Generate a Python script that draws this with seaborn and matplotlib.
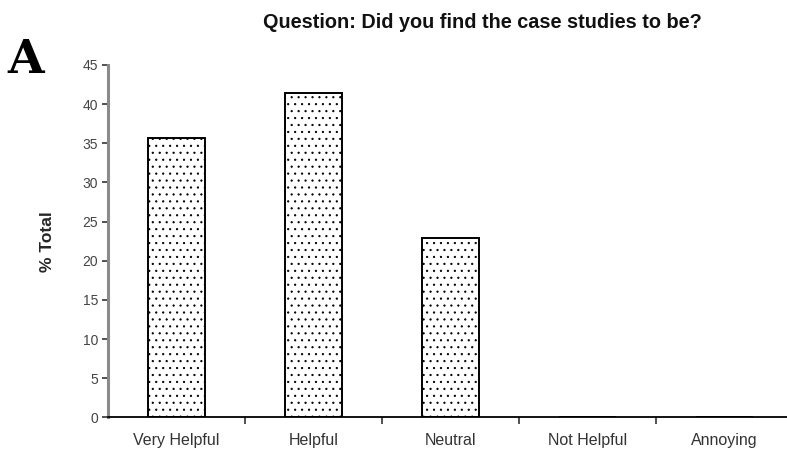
import matplotlib
matplotlib.use("Agg")
import matplotlib.pyplot as plt
import seaborn as sns
import numpy as np

categories = ["Very Helpful", "Helpful", "Neutral", "Not Helpful", "Annoying"]
percent_total = [35.7, 41.4, 22.9, 0.0, 0.0]
y_ticks = [0, 5, 10, 15, 20, 25, 30, 35, 40, 45]

sns.set_theme(style="white")
plt.rcParams["font.family"] = ["Liberation Sans", "DejaVu Sans"]

# Rendered at 125 dpi so the dot hatch comes out with a ~7 px pitch;
# every point-based size below is scaled by S to keep pixel sizes.
DPI = 125
S = 100 / DPI
plt.rcParams["hatch.linewidth"] = 0.6 * S
plt.rcParams["hatch.color"] = "#222222"

W, H = 787, 450
fig = plt.figure(figsize=(W / DPI, H / DPI), dpi=DPI)
ax = fig.add_axes([108 / W, 1 - 417.3 / H, (793 - 108) / W, (417.3 - 65) / H])

sns.barplot(x=categories, y=percent_total, color="white", edgecolor="black",
            linewidth=1.4 * S, width=0.41, saturation=1, ax=ax)
for p in ax.patches:
    p.set_hatch("...")
    p.set_facecolor("white")

ax.set_xlim(-0.5, 4.5)
ax.set_ylim(0, 45)
ax.set_yticks(y_ticks)
ax.set_yticklabels([str(v) for v in y_ticks])

for side in ("top", "right"):
    ax.spines[side].set_visible(False)
ax.spines["left"].set_color("#8a8a8a")
ax.spines["left"].set_linewidth(2.2 * S)
ax.spines["bottom"].set_color("black")
ax.spines["bottom"].set_linewidth(1.3 * S)

ax.tick_params(axis="y", direction="out", length=4 * S, width=1.2 * S,
               color="#333333", labelsize=10 * S, labelcolor="#444444",
               pad=3 * S, left=True)
ax.tick_params(axis="x", which="major", length=0, labelsize=11.5 * S,
               labelcolor="#333333", pad=11 * S)
ax.set_xticks(np.arange(0.5, 4.5, 1.0), minor=True)
ax.tick_params(axis="x", which="minor", direction="out", length=5 * S,
               width=1.2 * S, color="#333333", bottom=True)

ax.set_xlabel("")
ax.set_ylabel("% Total", fontsize=12.5 * S, fontweight="bold", labelpad=20 * S)

fig.text(482 / W, 1 - 22 / H, "Question: Did you find the case studies to be?",
         ha="center", va="center", fontsize=14.3 * S, fontweight="bold",
         color="#111111")
fig.text(7 / W, 1 - 60 / H, "A", ha="left", va="center", fontsize=34 * S,
         fontweight="bold", family="DejaVu Serif", color="black")

fig.savefig("out.png", dpi=DPI, facecolor="white")
